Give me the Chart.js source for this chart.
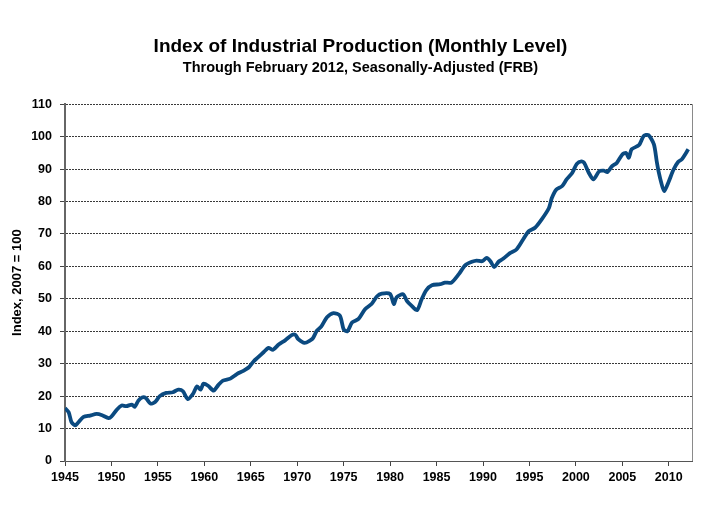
<!DOCTYPE html>
<html>
<head>
<meta charset="utf-8">
<script src="https://cdn.jsdelivr.net/npm/chart.js@4.4.1/dist/chart.umd.min.js"></script>
<style>
html,body{margin:0;padding:0;background:#fff;}
#wrap{width:721px;height:509px;}
</style>
</head>
<body>
<div id="wrap"><canvas id="ipChart" width="721" height="509"></canvas></div>
<script>
// values (index, 2007 = 100)
const years = [
1945.0,1945.4,1945.7,1946.1,1946.4,1947.0,1947.7,1948.4,1949.0,1949.7,
1950.0,1950.6,1951.1,1951.6,1952.2,1952.5,1952.9,1953.3,1953.7,1954.2,
1954.7,1955.2,1955.9,1956.6,1957.2,1957.7,1958.2,1958.8,1959.2,1959.6,
1959.9,1960.4,1961.0,1961.5,1962.0,1962.8,1963.5,1964.2,1964.8,1965.3,
1965.8,1966.4,1966.9,1967.4,1968.0,1968.7,1969.4,1969.8,1970.1,1970.8,
1971.4,1971.7,1972.1,1972.6,1973.2,1973.9,1974.6,1975.0,1975.4,1975.9,
1976.6,1977.3,1978.0,1978.6,1979.1,1980.0,1980.4,1980.7,1981.4,1981.8,
1982.3,1982.9,1983.4,1983.9,1984.5,1985.4,1985.9,1986.6,1987.4,1988.1,
1988.8,1989.3,1989.9,1990.4,1990.8,1991.2,1991.7,1992.2,1992.9,1993.6,
1994.3,1994.9,1995.6,1996.3,1997.1,1997.4,1997.9,1998.5,1999.0,1999.6,
2000.1,2000.6,2000.9,2001.4,2001.9,2002.5,2003.0,2003.4,2003.9,2004.4,
2005.0,2005.4,2005.7,2006.0,2006.8,2007.3,2007.8,2008.4,2008.7,2008.9,
2009.2,2009.5,2010.0,2010.5,2011.0,2011.4,2012.1
];
const indexValues = [
16.3,15.0,12.0,11.0,11.8,13.6,14.0,14.5,14.1,13.2,
13.7,15.9,17.1,16.9,17.4,16.7,18.6,19.6,19.4,17.7,
18.2,20.0,21.0,21.2,22.0,21.5,19.1,20.8,23.0,22.0,
23.8,23.2,21.7,23.4,24.8,25.4,26.8,27.8,28.9,30.7,
32.0,33.6,34.9,34.3,35.9,37.2,38.8,38.9,37.6,36.4,
37.2,37.9,40.1,41.5,44.3,45.6,44.8,40.6,40.0,42.7,
43.8,46.8,48.4,50.8,51.6,51.5,48.4,50.5,51.4,49.4,
47.9,46.5,49.9,52.7,54.2,54.5,55.0,55.0,57.6,60.4,
61.4,61.8,61.6,62.6,61.6,59.8,61.5,62.4,64.1,65.2,
68.2,70.8,71.9,74.4,78.0,81.0,83.7,84.7,86.8,88.8,
91.6,92.4,91.9,88.8,86.8,89.3,89.5,89.1,90.9,91.9,
94.5,95.0,93.5,96.1,97.4,100.2,100.5,97.6,92.4,89.3,
85.7,83.2,86.2,89.8,92.2,93.0,96.1
];
const yTicks = [0,10,20,30,40,50,60,70,80,90,100,110];
const xTickYears = [1945,1950,1955,1960,1965,1970,1975,1980,1985,1990,1995,2000,2005,2010];

const FONT = "'Liberation Sans', Arial, sans-serif";

const rightEdge = {
  id: "rightEdge",
  afterDraw(chart){
    const a = chart.chartArea, ctx = chart.ctx;
    ctx.save();
    ctx.strokeStyle = "#8a8a8a";
    ctx.lineWidth = 1;
    ctx.beginPath();
    ctx.moveTo(Math.round(a.right)+0.5, a.top);
    ctx.lineTo(Math.round(a.right)+0.5, a.bottom);
    ctx.stroke();
    ctx.restore();
  }
};

new Chart(document.getElementById("ipChart"),{
  type:"line",
  data:{
    datasets:[{
      label:"Industrial Production",
      data:years.map((y,i)=>({x:y,y:indexValues[i]})),
      borderColor:"#0b4a80",
      borderWidth:3.8,
      pointRadius:0,
      tension:0.25,
      fill:false
    }]
  },
  options:{
    responsive:false,
    animation:false,
    devicePixelRatio:1,
    layout:{padding:{left:6,right:6,top:0,bottom:0}},
    plugins:{
      legend:{display:false},
      tooltip:{enabled:false},
      title:{
        display:true,
        text:"Index of Industrial Production (Monthly Level)",
        color:"#000",
        font:{family:FONT,size:19,weight:"bold"},
        padding:{top:35,bottom:1}
      },
      subtitle:{
        display:true,
        text:"Through February 2012, Seasonally-Adjusted (FRB)",
        color:"#000",
        font:{family:FONT,size:14.5,weight:"bold"},
        padding:{top:0,bottom:28}
      }
    },
    scales:{
      x:{
        type:"linear",
        min:1945,
        max:2012.5,
        afterBuildTicks:s=>{s.ticks = xTickYears.map(v=>({value:v}));},
        afterFit:s=>{s.height=48;},
        ticks:{
          color:"#000",
          font:{family:FONT,size:12.5,weight:"bold"},
          padding:4,
          maxRotation:0,
          autoSkip:false,
          callback:v=>String(v)
        },
        grid:{drawOnChartArea:false,drawTicks:true,tickLength:5,tickColor:"#444"},
        border:{display:true,color:"#555",width:1}
      },
      y:{
        min:0,
        max:110,
        afterBuildTicks:s=>{s.ticks = yTicks.map(v=>({value:v}));},
        afterFit:s=>{s.width=59;},
        ticks:{
          color:"#000",
          font:{family:FONT,size:12.5,weight:"bold"},
          padding:8
        },
        title:{
          display:true,
          text:"Index, 2007 = 100",
          color:"#000",
          font:{family:FONT,size:13,weight:"bold"}
        },
        grid:{color:"#3a3a3a",lineWidth:1,tickLength:5,tickColor:"#444"},
        border:{display:true,color:"#666",width:2,dash:[2,1]}
      },
      // empty right-hand spacer so the titles stay centred on the page
      yRight:{
        position:"right",
        min:0,
        max:110,
        afterFit:s=>{s.width=23;},
        ticks:{display:false},
        grid:{display:false,drawTicks:false},
        border:{display:false}
      }
    }
  },
  plugins:[rightEdge]
});
</script>
</body>
</html>
